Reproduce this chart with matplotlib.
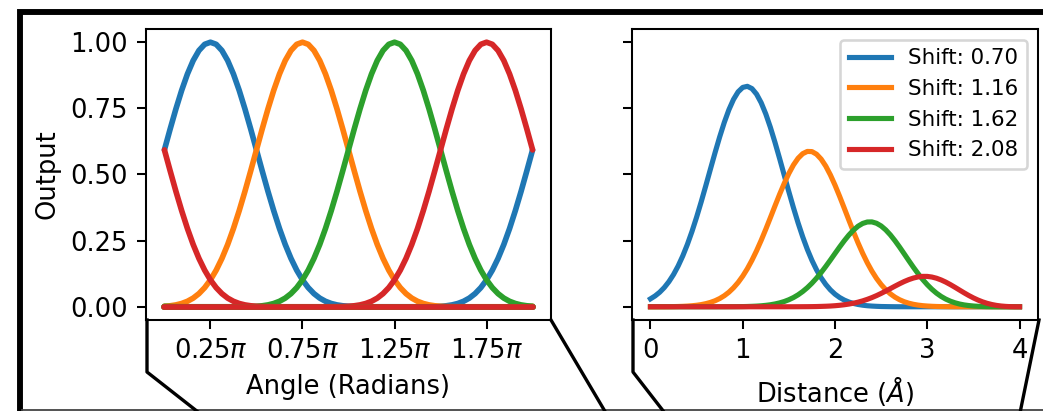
import numpy as np
import matplotlib
matplotlib.use("Agg")
from matplotlib import pyplot as plt
from matplotlib.lines import Line2D
from matplotlib.patches import Rectangle

angle_profile = [1.0000, 0.9921, 0.9686, 0.9307, 0.8798, 0.8181, 0.7479, 0.6720,
                 0.5930, 0.5137, 0.4363, 0.3632, 0.2958, 0.2354, 0.1828, 0.1382,
                 0.1015, 0.0722, 0.0496, 0.0327, 0.0207, 0.0124, 0.0070, 0.0037,
                 0.0018, 0.0008, 0.0003, 0.0001, 0.0, 0.0, 0.0, 0.0, 0.0]
angle_steps = 64                 # 0 .. 2pi in steps of pi/32
angle_centres = [8, 24, 40, 56]  # 0.25pi, 0.75pi, 1.25pi, 1.75pi
angle_ticks = [0.25, 0.75, 1.25, 1.75]

# radial part, sampled every 0.05 A from 0 to 4
dist = [i / 20 for i in range(81)]
shift_labels = ["0.70", "1.16", "1.62", "2.08"]
radial_blue = [0.0299, 0.0409, 0.0549, 0.0727, 0.0949, 0.1218, 0.1541, 0.1920, 0.2356, 0.2846,
               0.3386, 0.3968, 0.4579, 0.5204, 0.5824, 0.6419, 0.6967, 0.7447, 0.7838, 0.8124,
               0.8292, 0.8333, 0.8247, 0.8037, 0.7712, 0.7287, 0.6779, 0.6209, 0.5600, 0.4972,
               0.4347, 0.3741, 0.3170, 0.2644, 0.2171, 0.1755, 0.1396, 0.1093, 0.0843, 0.0639,
               0.0477, 0.0351, 0.0254, 0.0180, 0.0126, 0.0087, 0.0059, 0.0039, 0.0026, 0.0017,
               0.0010, 0.0007, 0.0004, 0.0002, 0.0001, 0.0001] + [0.0] * 25
radial_orange = [0.0001, 0.0001, 0.0002, 0.0003, 0.0004, 0.0007, 0.0011, 0.0017, 0.0026, 0.0039,
                 0.0057, 0.0082, 0.0118, 0.0165, 0.0228, 0.0311, 0.0417, 0.0551, 0.0717, 0.0918,
                 0.1158, 0.1438, 0.1759, 0.2118, 0.2511, 0.2932, 0.3371, 0.3816, 0.4253, 0.4666,
                 0.5041, 0.5362, 0.5614, 0.5787, 0.5872, 0.5866, 0.5767, 0.5581, 0.5316, 0.4984,
                 0.4598, 0.4175, 0.3730, 0.3279, 0.2836, 0.2413, 0.2020, 0.1663, 0.1347, 0.1072,
                 0.0840, 0.0646, 0.0489, 0.0364, 0.0266, 0.0191, 0.0135, 0.0093, 0.0063, 0.0042,
                 0.0028, 0.0018, 0.0011, 0.0007, 0.0004, 0.0002, 0.0001, 0.0001] + [0.0] * 13
radial_green = [0.0] * 13 + [
                0.0000, 0.0000, 0.0001, 0.0001, 0.0002, 0.0003, 0.0005,
                0.0007, 0.0011, 0.0017, 0.0025, 0.0037, 0.0054, 0.0076, 0.0107, 0.0147, 0.0199,
                0.0266, 0.0349, 0.0452, 0.0576, 0.0722, 0.0891, 0.1083, 0.1295, 0.1525, 0.1766,
                0.2014, 0.2259, 0.2494, 0.2710, 0.2896, 0.3046, 0.3150, 0.3205, 0.3208, 0.3157,
                0.3055, 0.2906, 0.2717, 0.2497, 0.2256, 0.2001, 0.1744, 0.1492, 0.1254, 0.1033,
                0.0835, 0.0662, 0.0514, 0.0391, 0.0291, 0.0212, 0.0151, 0.0104, 0.0070, 0.0046,
                0.0029, 0.0018, 0.0011, 0.0006, 0.0003, 0.0002, 0.0001, 0.0, 0.0, 0.0, 0.0]
radial_red = [0.0] * 30 + [
              0.0001, 0.0001, 0.0002, 0.0003, 0.0004, 0.0006, 0.0009, 0.0014, 0.0020, 0.0028,
              0.0040, 0.0056, 0.0076, 0.0102, 0.0135, 0.0175, 0.0223, 0.0281, 0.0347, 0.0422,
              0.0505, 0.0594, 0.0686, 0.0780, 0.0870, 0.0954, 0.1027, 0.1086, 0.1128, 0.1149,
              0.1148, 0.1124, 0.1079, 0.1014, 0.0933, 0.0839, 0.0737, 0.0631, 0.0526, 0.0426,
              0.0335, 0.0254, 0.0185, 0.0129, 0.0085, 0.0052, 0.0029, 0.0014, 0.0005, 0.0001,
              0.0]
radial = [radial_blue, radial_orange, radial_green, radial_red]

colors = ["tab:blue", "tab:orange", "tab:green", "tab:red"]

W, H, DPI = 1043, 411, 185
fig = plt.figure(figsize=(W / DPI, H / DPI), dpi=DPI)

def fx(px):
    return px / W

def fy(py):
    return 1 - py / H

ax1 = fig.add_axes([fx(146), fy(320), fx(551) - fx(146), fy(29) - fy(320)])
ax2 = fig.add_axes([fx(632), fy(320), fx(1038) - fx(632), fy(29) - fy(320)], sharey=ax1)

# left: angular outputs
theta = [i * np.pi / 32 for i in range(angle_steps + 1)]
for c, col in zip(angle_centres, colors):
    vals = []
    for i in range(angle_steps + 1):
        k = abs(i - c)
        k = min(k, angle_steps - k)
        vals.append(angle_profile[k])
    ax1.plot(theta, vals, color=col, lw=2.2, solid_capstyle="round")
# empty outputs (all zero)
for col in colors:
    ax1.plot(theta, [0.0] * len(theta), color=col, lw=2.2, solid_capstyle="round")

ax1.set_xticks([t * np.pi for t in angle_ticks])
ax1.set_xticklabels([r"$%.2f\pi$" % t for t in angle_ticks])
ax1.set_yticks([0, 0.25, 0.5, 0.75, 1.0])
ax1.set_yticklabels(["0.00", "0.25", "0.50", "0.75", "1.00"])
ax1.set_xlabel("Angle (Radians)")
ax1.set_ylabel("Output")

# right: radial outputs
for vals, col, lab in zip(radial, colors, shift_labels):
    ax2.plot(dist, vals, color=col, lw=2, label="Shift: " + lab)
ax2.set_xticks([0, 1, 2, 3, 4])
ax2.tick_params(labelleft=False)
ax2.set_xlabel(r"Distance ($\AA$)")
ax2.legend(loc="upper right", fontsize="small")

# surrounding frame and connector lines
fig.add_artist(Rectangle((fx(19.5), fy(600)), 2, fy(12.2) - fy(600),
                         transform=fig.transFigure, fill=False, lw=2.3, ec="black"))
fig.add_artist(Line2D([fx(22), fx(1043)], [fy(410.3), fy(410.3)], color="#444444", lw=0.7))
for xs, ys in [([147, 147, 221], [320, 372, 430]),
               ([551, 616], [320, 430]),
               ([633, 633, 678], [320, 372, 430]),
               ([1039, 1016.5], [320, 430])]:
    fig.add_artist(Line2D([fx(x) for x in xs], [fy(y) for y in ys], color="black", lw=1.3))

fig.savefig("out.png", dpi=DPI)
